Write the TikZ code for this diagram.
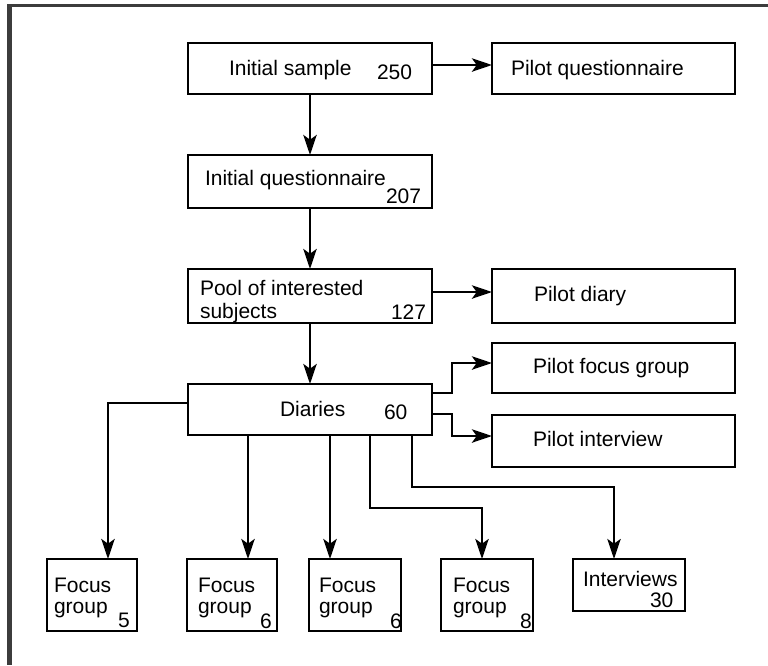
\documentclass[tikz,border=0pt]{standalone}
\usepackage{fontspec}
\setmainfont{Liberation Sans}
\usetikzlibrary{arrows.meta,calc}
\definecolor{framecol}{HTML}{3C3C3C}
\begin{document}
\begin{tikzpicture}[x=0.75pt,y=-0.75pt,
  box/.style 2 args={draw, line width=2.1pt, inner sep=0pt, outer sep=0pt,
    minimum width=#1*0.75pt, minimum height=#2*0.75pt},
  txt/.style={inner sep=0pt, outer sep=0pt, anchor=base west,
    font=\fontsize{15.75}{17.5}\selectfont},
  arr/.style={line width=1.9pt, -{Stealth[length=15pt,width=10pt,inset=3.5pt]}}
]
\useasboundingbox (0,0) rectangle (768,665);
% frame
\draw[framecol, line width=2.8pt] (7,5.5) -- (768,5.5);
\draw[framecol, line width=3.3pt] (9.5,4) -- (9.5,665);

% boxes
\node[box={244}{51}] (is)  at (310,68.5) {};
\node[box={243}{51}] (pq)  at (613.5,68.5) {};
\node[box={244}{53}] (iq)  at (310,181.5) {};
\node[box={244}{54}] (pool) at (310,296) {};
\node[box={243}{54}] (pd)  at (613.5,296) {};
\node[box={244}{51}] (di)  at (310,409.5) {};
\node[box={243}{50}] (pfg) at (613.5,368) {};
\node[box={243}{52}] (pi)  at (613.5,441) {};
\node[box={90}{72}]  (fg1) at (92,595) {};
\node[box={90}{72}]  (fg2) at (232,595) {};
\node[box={92}{72}]  (fg3) at (355,595) {};
\node[box={92}{72}]  (fg4) at (487,595) {};
\node[box={112}{52}] (int) at (629,585) {};

% texts
\node[txt] (t1) at (229,75) {Initial sample};
\node[txt] (t2) at (377,79) {250};
\node[txt] (t3) at (511,75) {Pilot questionnaire};
\node[txt] (t4) at (205,185) {Initial questionnaire};
\node[txt] (t5) at (386,203) {207};
\node[txt] (t6) at (200,295) {Pool of interested};
\node[txt] (t7) at (200,318) {subjects};
\node[txt] (t8) at (391,319) {127};
\node[txt] (t9) at (534,301) {Pilot diary};
\node[txt] (t10) at (533,373) {Pilot focus group};
\node[txt] (t11) at (533,446) {Pilot interview};
\node[txt] (t12) at (280,416) {Diaries};
\node[txt] (t13) at (384,419) {60};
\node[txt] (t14) at (54,592) {Focus};
\node[txt] (t15) at (54,613) {group};
\node[txt] (t16) at (118,627) {5};
\node[txt] (t17) at (198,592) {Focus};
\node[txt] (t18) at (198,613) {group};
\node[txt] (t19) at (260,628) {6};
\node[txt] (t20) at (319,592) {Focus};
\node[txt] (t21) at (319,613) {group};
\node[txt] (t22) at (390,628) {6};
\node[txt] (t23) at (453,592) {Focus};
\node[txt] (t24) at (453,613) {group};
\node[txt] (t25) at (520,628) {8};
\node[txt] (t26) at (583,586) {Interviews};
\node[txt] (t27) at (650,607) {30};

% connectors
\draw[arr] ($(is.east)+(0,-3.5)$) -- ($(pq.west)+(0,-3.5)$);
\draw[arr] (is.south) -- (iq.north);
\draw[arr] (iq.south) -- (pool.north);
\draw[arr] ($(pool.east)+(0,-4)$) -- ($(pd.west)+(0,-4)$);
\draw[arr] (pool.south) -- (di.north);
\draw[arr] ($(di.east)+(0,-16.5)$) -- ++(20,0) |- ($(pfg.west)+(0,-5)$);
\draw[arr] ($(di.east)+(0,4.5)$) -- ++(20,0) |- ($(pi.west)+(0,-5)$);
\draw[arr] ($(di.west)+(0,-6.5)$) -| ($(fg1.north)+(16,0)$);
\coordinate (f2) at ($(fg2.north)+(16,0)$);
\coordinate (f3) at ($(fg3.north)+(-25,0)$);
\draw[arr] (f2 |- di.south) -- (f2);
\draw[arr] (f3 |- di.south) -- (f3);
\draw[arr] ($(di.south)+(60,0)$) -- ++(0,73) -| ($(fg4.north)+(-5,0)$);
\draw[arr] ($(di.south)+(102,0)$) -- ++(0,52) -| ($(int.north)+(-15,0)$);
\end{tikzpicture}
\end{document}
